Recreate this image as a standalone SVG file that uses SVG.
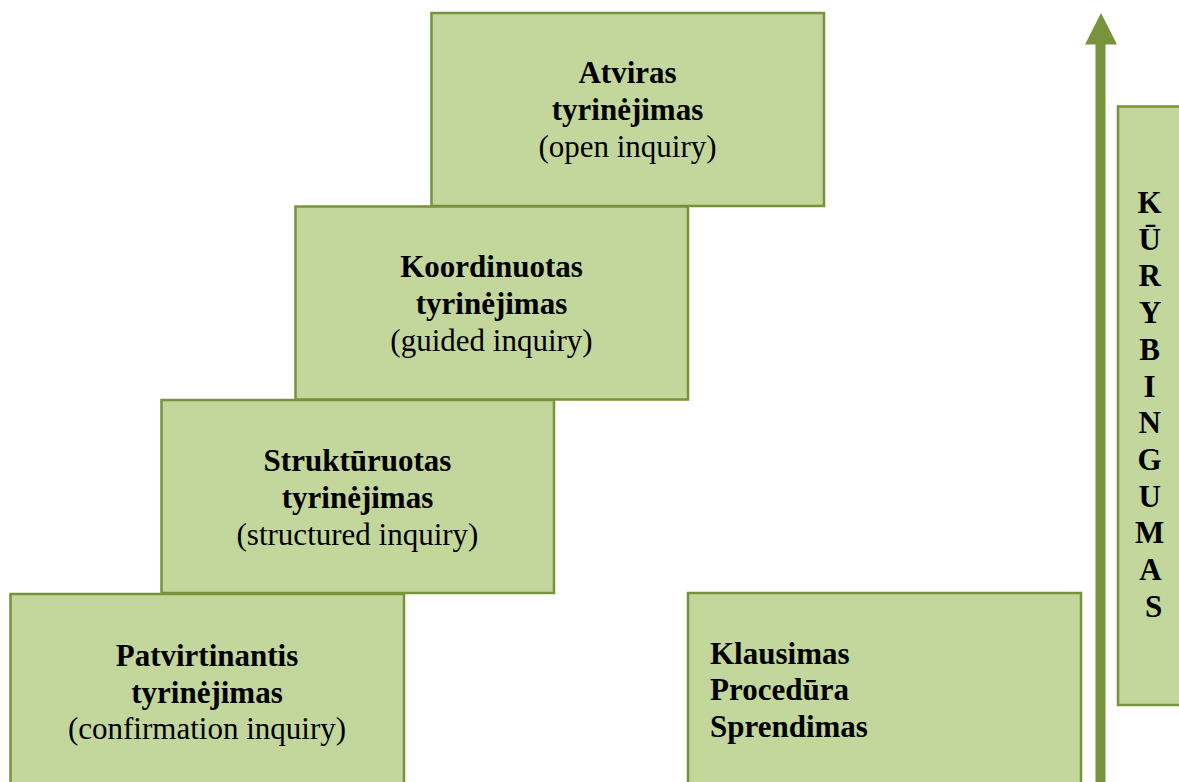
<svg xmlns="http://www.w3.org/2000/svg" width="1179" height="782" viewBox="0 0 1179 782">
<style>
.box{fill:#C3D69B;stroke:#77933C;stroke-width:2.5}
.b{font-family:"Liberation Serif","Times New Roman",serif;font-weight:bold;font-size:31px;fill:#000}
.r{font-family:"Liberation Serif","Times New Roman",serif;font-size:31px;fill:#000}
.c{text-anchor:middle}
</style>
<rect width="1179" height="782" fill="#fff"/>
<g id="connectors">
<rect x="1095.5" y="43" width="10" height="745" fill="#77933C"/>
<polygon points="1085,44.5 1117,44.5 1101,13" fill="#77933C"/>
</g>
<g id="atviras">
<rect class="box" x="431.5" y="13" width="392.5" height="193"/>
<text class="b c" x="627.5" y="83">Atviras</text>
<text class="b c" x="627.5" y="120">tyrinėjimas</text>
<text class="r c" x="627.5" y="157">(open inquiry)</text>
</g>
<g id="koordinuotas">
<rect class="box" x="295.5" y="206.5" width="392.5" height="193"/>
<text class="b c" x="491.5" y="277">Koordinuotas</text>
<text class="b c" x="491.5" y="314">tyrinėjimas</text>
<text class="r c" x="491.5" y="351">(guided inquiry)</text>
</g>
<g id="strukturuotas">
<rect class="box" x="161.5" y="400" width="392.5" height="193"/>
<text class="b c" x="357.5" y="471">Struktūruotas</text>
<text class="b c" x="357.5" y="508">tyrinėjimas</text>
<text class="r c" x="357.5" y="545">(structured inquiry)</text>
</g>
<g id="patvirtinantis">
<rect class="box" x="10.5" y="594" width="393.5" height="200"/>
<text class="b c" x="207" y="666">Patvirtinantis</text>
<text class="b c" x="207" y="703">tyrinėjimas</text>
<text class="r c" x="207" y="739">(confirmation inquiry)</text>
</g>
<g id="klausimas">
<rect class="box" x="688" y="593" width="393" height="200"/>
<text class="b" x="710" y="664">Klausimas</text>
<text class="b" x="710" y="700">Procedūra</text>
<text class="b" x="710" y="737">Sprendimas</text>
</g>
<g id="kurybingumas">
<rect class="box" x="1118" y="106.5" width="70" height="598.5"/>
<text class="b c" x="1153.5" font-size="29">
<tspan x="1153.5" y="213">K</tspan>
<tspan x="1153.5" y="249.7">Ū</tspan>
<tspan x="1153.5" y="286.4">R</tspan>
<tspan x="1153.5" y="323.1">Y</tspan>
<tspan x="1153.5" y="359.8">B</tspan>
<tspan x="1153.5" y="396.5">I</tspan>
<tspan x="1153.5" y="433.2">N</tspan>
<tspan x="1153.5" y="469.9">G</tspan>
<tspan x="1153.5" y="506.6">U</tspan>
<tspan x="1153.5" y="543.3">M</tspan>
<tspan x="1153.5" y="580">A</tspan>
<tspan x="1153.5" y="616.7">S</tspan>
</text>
</g>
</svg>
